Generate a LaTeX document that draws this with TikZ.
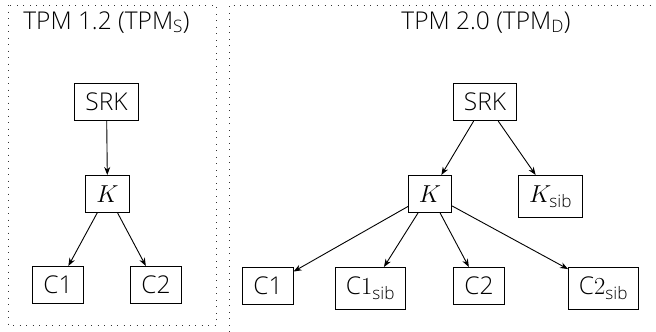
\documentclass[tikz,border=0pt]{standalone}
\usepackage{fix-cm}
\usepackage{amsmath}
\usepackage{fontspec}
\setmainfont{Open Sans Light}
\usetikzlibrary{arrows.meta}
\tikzset{
  keybox/.style={draw, line width=0.9pt, anchor=north, inner xsep=10.5pt, inner ysep=9.75pt, text height=17.5pt, font=\fontsize{24.5}{28}\selectfont},
  titletext/.style={anchor=base, inner sep=0pt, font=\fontsize{24.5}{28}\selectfont},
  edge/.style={line width=0.9pt, -{Stealth[length=8pt,width=6pt,inset=2.5pt]}},
  frame/.style={line width=1pt, dash pattern=on 1pt off 5.5pt, black!80}
}
\begin{document}
\begin{tikzpicture}[x=1pt,y=-1pt]
\useasboundingbox (0,0) rectangle (656,332);
% frames
\draw[frame] (8,5) rectangle (216,325);
\draw[frame] (229,332) -- (229,5) -- (656,5);
% titles
\node[titletext] (t1) at (106.5,29) {TPM 1.2 (TPM$_\text{S}$)};
\node[titletext] (t2) at (486,29) {TPM 2.0 (TPM$_\text{D}$)};
% left tree
\node[keybox] (lsrk) at (106.5,83) {SRK};
\node[keybox] (lk) at (107.5,175) {$K$};
\node[keybox] (lc1) at (58,266) {C1};
\node[keybox] (lc2) at (156,266) {C2};
\draw[edge] (lsrk) -- (lk);
\draw[edge] (lk) -- (lc1);
\draw[edge] (lk) -- (lc2);
% right tree
\node[keybox] (rsrk) at (485,83) {SRK};
\node[keybox] (rk) at (430,175) {$K$};
\node[keybox] (rksib) at (550.5,175) {$K_\text{sib}$};
\node[keybox] (rc1) at (268,267) {C1};
\node[keybox] (rc1sib) at (370.5,267) {C$1_\text{sib}$};
\node[keybox] (rc2) at (479,267) {C2};
\node[keybox] (rc2sib) at (603.5,267) {C$2_\text{sib}$};
\draw[edge] (rsrk) -- (rk);
\draw[edge] (rsrk) -- (rksib);
\draw[edge] (rk) -- (rc1);
\draw[edge] (rk) -- (rc1sib);
\draw[edge] (rk) -- (rc2);
\draw[edge] (rk) -- (rc2sib);
\end{tikzpicture}
\end{document}
